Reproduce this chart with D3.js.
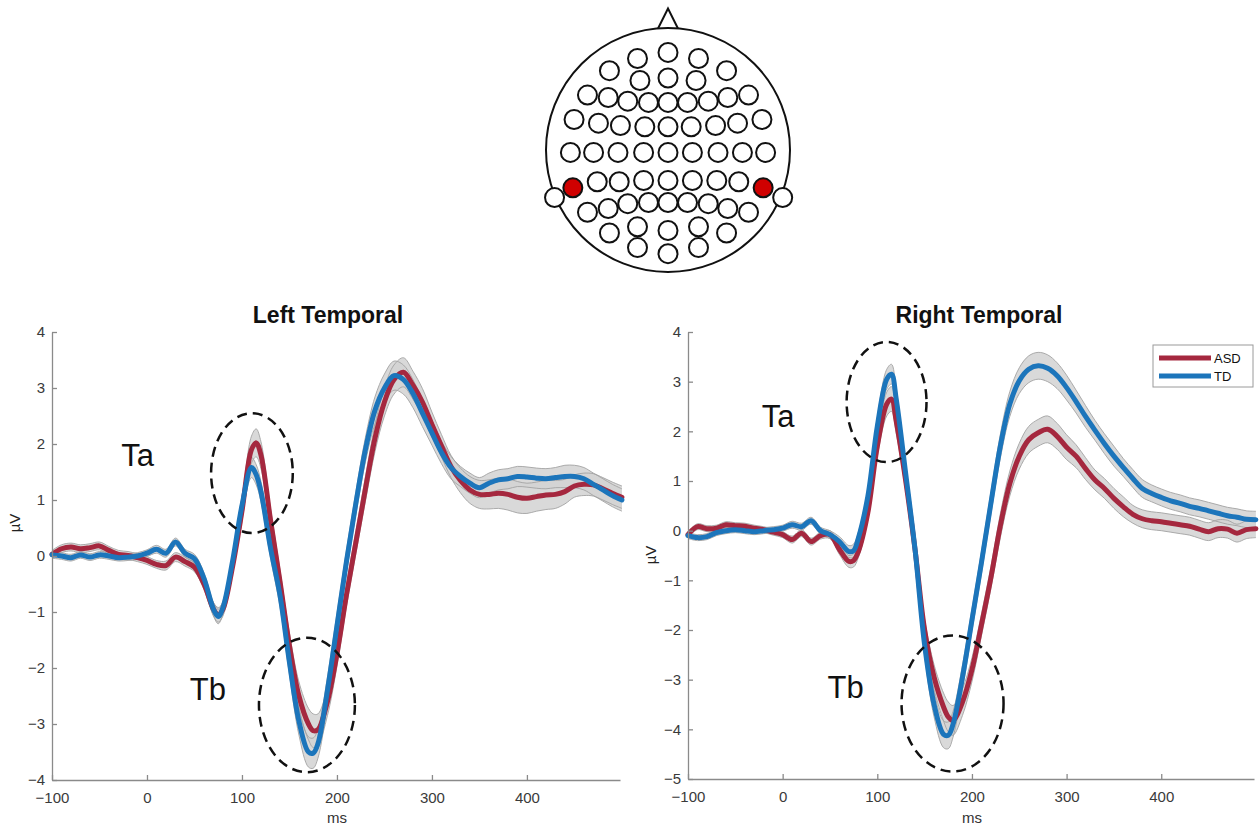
<!DOCTYPE html>
<html>
<head>
<meta charset="utf-8">
<script src="https://cdn.jsdelivr.net/npm/d3@7"></script>
<style>
  body { margin: 0; background: #fff; }
  text { font-family: Arial, "Liberation Sans", sans-serif; }
</style>
</head>
<body>
<svg id="chart" width="1260" height="829"></svg>
<script>
// time points (ms)
var ms = [-100, -90, -80, -70, -60, -50, -40, -30, -20, -10, 0, 10, 20, 30, 40, 50, 60, 70, 75, 80,
  90, 100, 110, 115, 120, 130, 140, 150, 160, 170, 175, 180, 190, 200, 210, 220, 230, 240, 250, 260,
  270, 280, 290, 300, 310, 320, 330, 340, 350, 360, 370, 380, 390, 400, 410, 420, 430, 440, 450, 460,
  470, 480, 490, 500];

// Left temporal (µV)
var leftASD = [0.03, 0.13, 0.16, 0.13, 0.15, 0.18, 0.1, 0.03, 0.01, -0.03, -0.08, -0.15, -0.17, -0.02, -0.1, -0.2, -0.5, -0.95, -1.05, -0.95,
  -0.2, 0.8, 1.9, 2.02, 1.8, 0.65, -0.45, -1.6, -2.5, -3.0, -3.12, -3.1, -2.6, -1.75, -0.7, 0.25, 1.2, 2.1, 2.75, 3.15,
  3.28, 3.05, 2.75, 2.35, 1.97, 1.6, 1.35, 1.18, 1.1, 1.1, 1.12, 1.1, 1.05, 1.03, 1.06, 1.09, 1.1, 1.15, 1.25, 1.28,
  1.27, 1.2, 1.12, 1.05];
var leftTD = [0.02, 0.0, -0.03, 0.02, -0.02, 0.02, 0.0, -0.03, -0.02, 0.0, 0.05, 0.12, 0.05, 0.25, 0.05, -0.05, -0.4, -0.95, -1.08, -0.92,
  -0.1, 0.9, 1.58, 1.45, 1.15, 0.15, -0.7, -1.9, -2.95, -3.5, -3.52, -3.35, -2.4, -1.25, -0.1, 0.95, 1.9, 2.6, 3.0, 3.22,
  3.15, 2.9, 2.55, 2.2, 1.85, 1.58, 1.42, 1.3, 1.22, 1.3, 1.36, 1.38, 1.42, 1.41, 1.39, 1.38, 1.4, 1.42, 1.42, 1.38,
  1.28, 1.18, 1.08, 1.0];
var leftASDse = [0.07, 0.07, 0.07, 0.07, 0.07, 0.07, 0.07, 0.07, 0.07, 0.07, 0.07, 0.07, 0.08, 0.08, 0.08, 0.08, 0.1, 0.12, 0.13, 0.12,
  0.12, 0.18, 0.24, 0.25, 0.24, 0.2, 0.2, 0.22, 0.25, 0.28, 0.3, 0.28, 0.25, 0.22, 0.2, 0.2, 0.22, 0.24, 0.25, 0.26,
  0.26, 0.25, 0.24, 0.22, 0.2, 0.2, 0.22, 0.24, 0.25, 0.26, 0.27, 0.28, 0.28, 0.27, 0.26, 0.26, 0.25, 0.22, 0.2, 0.2,
  0.2, 0.2, 0.2, 0.2];
var leftTDse = [0.06, 0.06, 0.06, 0.06, 0.06, 0.06, 0.06, 0.06, 0.06, 0.06, 0.06, 0.07, 0.07, 0.07, 0.07, 0.08, 0.1, 0.12, 0.13, 0.12,
  0.12, 0.16, 0.18, 0.18, 0.18, 0.18, 0.2, 0.22, 0.25, 0.27, 0.27, 0.26, 0.24, 0.22, 0.2, 0.2, 0.22, 0.24, 0.25, 0.26,
  0.26, 0.25, 0.24, 0.22, 0.2, 0.2, 0.18, 0.18, 0.18, 0.18, 0.18, 0.18, 0.18, 0.18, 0.18, 0.18, 0.18, 0.2, 0.2, 0.2,
  0.2, 0.2, 0.2, 0.2];

// Right temporal (µV)
var rightASD = [-0.08, 0.08, 0.04, 0.05, 0.12, 0.1, 0.09, 0.05, 0.02, -0.03, -0.08, -0.18, -0.05, -0.22, -0.1, -0.08, -0.38, -0.62, -0.6, -0.42,
  0.36, 1.7, 2.55, 2.65, 2.2, 1.0, -0.4, -2.0, -2.95, -3.55, -3.75, -3.82, -3.45, -2.8, -1.9, -0.95, 0.1, 0.95, 1.5, 1.83,
  1.97, 2.04, 1.9, 1.68, 1.5, 1.25, 1.02, 0.85, 0.65, 0.48, 0.33, 0.24, 0.2, 0.18, 0.15, 0.12, 0.09, 0.03, -0.02, 0.04,
  0.03, -0.05, 0.02, 0.04];
var rightTD = [-0.1, -0.14, -0.12, -0.04, 0.0, 0.02, 0.0, -0.02, 0.0, 0.02, 0.05, 0.12, 0.08, 0.2, 0.0, -0.08, -0.22, -0.42, -0.4, -0.15,
  0.69, 2.1, 3.05, 3.15, 2.65, 1.15, -0.4, -2.3, -3.5, -4.1, -4.12, -3.9, -2.95, -1.8, -0.65, 0.55, 1.7, 2.55, 3.02, 3.25,
  3.32, 3.27, 3.12, 2.88, 2.6, 2.3, 2.02, 1.75, 1.5, 1.27, 1.05, 0.85, 0.75, 0.67, 0.6, 0.55, 0.49, 0.45, 0.4, 0.35,
  0.3, 0.27, 0.23, 0.22];
var rightASDse = [0.06, 0.06, 0.06, 0.06, 0.06, 0.06, 0.06, 0.06, 0.06, 0.06, 0.06, 0.07, 0.07, 0.07, 0.07, 0.08, 0.1, 0.12, 0.13, 0.12,
  0.14, 0.2, 0.24, 0.25, 0.24, 0.2, 0.2, 0.22, 0.25, 0.28, 0.3, 0.3, 0.27, 0.24, 0.22, 0.22, 0.24, 0.25, 0.26, 0.27,
  0.27, 0.27, 0.26, 0.25, 0.23, 0.22, 0.2, 0.2, 0.2, 0.2, 0.18, 0.18, 0.18, 0.18, 0.18, 0.18, 0.18, 0.18, 0.18, 0.18,
  0.18, 0.18, 0.18, 0.18];
var rightTDse = [0.06, 0.06, 0.06, 0.06, 0.06, 0.06, 0.06, 0.06, 0.06, 0.06, 0.06, 0.07, 0.07, 0.07, 0.07, 0.08, 0.1, 0.12, 0.13, 0.12,
  0.14, 0.18, 0.2, 0.2, 0.2, 0.2, 0.2, 0.22, 0.25, 0.27, 0.27, 0.26, 0.24, 0.22, 0.22, 0.22, 0.24, 0.25, 0.26, 0.27,
  0.27, 0.27, 0.26, 0.25, 0.23, 0.22, 0.2, 0.2, 0.2, 0.18, 0.18, 0.18, 0.17, 0.17, 0.17, 0.17, 0.17, 0.17, 0.17, 0.17,
  0.17, 0.17, 0.17, 0.17];

var groups = ["ASD", "TD"];
var xTicks = [-100, 0, 100, 200, 300, 400];
var leftYTicks = [-4, -3, -2, -1, 0, 1, 2, 3, 4];
var rightYTicks = [-5, -4, -3, -2, -1, 0, 1, 2, 3, 4];

// annotations: [label, ms, µV] and ellipses [ms, µV, rx ms, ry µV]
var leftLabels = [["Ta", -27, 1.61], ["Tb", 45, -2.57]];
var leftEllipses = [[110.5, 1.48, 43, 1.07], [168.4, -2.66, 50.5, 1.2]];
var rightLabels = [["Ta", -22, 2.09], ["Tb", 47.5, -3.36]];
var rightEllipses = [[109.8, 2.59, 42.2, 1.21], [179.5, -3.48, 53.9, 1.37]];

// electrode montage, head units (radius 100)
var electrodes = [[0, -80], [-25, -75], [25, -75], [-48, -65], [48, -65], [-23, -57], [0, -59], [23, -57],
  [-66, -45], [-49, -43], [-33, -40], [-16, -39], [0, -39], [16, -39], [33, -40], [49, -43], [66, -45],
  [-77, -25], [-57, -22], [-39, -20], [-19, -19], [0, -19], [19, -19], [39, -20], [57, -22], [77, -25],
  [-80, 2], [-61, 2], [-41, 2], [-20, 2], [0, 2], [20, 2], [41, 2], [61, 2], [80, 2],
  [-58, 26], [-40, 26], [-20, 25], [0, 25], [20, 25], [40, 25], [58, 26],
  [-66, 51], [-49, 48], [-33, 44], [-16, 43], [0, 43], [16, 43], [33, 44], [49, 48], [66, 51],
  [-48, 68], [-25, 63], [0, 66], [25, 63], [48, 68], [-25, 80], [0, 85], [25, 80],
  [-93, 39], [94, 39]];
var activeSites = [[-78, 31], [78, 31]];
var nose = [[-9, -98], [0, -116], [9, -98]];

var colors = { ASD: "#a5283f", TD: "#1c75bb" };
var svg = d3.select("#chart");
svg.append("rect").attr("width", 1260).attr("height", 829).attr("fill", "#fff");

// ---- head map ----
var hx = d3.scaleLinear().domain([-100, 100]).range([546, 790]);
var hy = d3.scaleLinear().domain([-100, 100]).range([28, 272]);
var head = svg.append("g");
head.append("path")
  .attr("d", d3.line().x(function (d) { return hx(d[0]); }).y(function (d) { return hy(d[1]); })(nose))
  .attr("fill", "#fff").attr("stroke", "#111").attr("stroke-width", 2);
head.append("circle")
  .attr("cx", hx(0)).attr("cy", hy(0)).attr("r", hx(100) - hx(0))
  .attr("fill", "#fff").attr("stroke", "#111").attr("stroke-width", 2);
head.selectAll(".el").data(electrodes).enter().append("circle")
  .attr("cx", function (d) { return hx(d[0]); })
  .attr("cy", function (d) { return hy(d[1]); })
  .attr("r", 9.5).attr("fill", "#fff").attr("stroke", "#111").attr("stroke-width", 2);
head.selectAll(".act").data(activeSites).enter().append("circle")
  .attr("cx", function (d) { return hx(d[0]); })
  .attr("cy", function (d) { return hy(d[1]); })
  .attr("r", 9.5).attr("fill", "#d00000").attr("stroke", "#111").attr("stroke-width", 2);

// ---- ERP panels ----
function drawPanel(p) {
  var x = d3.scaleLinear().domain([-100, 498]).range(p.xRange);
  var y = d3.scaleLinear().domain([p.yTicks[0], p.yTicks[p.yTicks.length - 1]]).range(p.yRange);
  var g = svg.append("g");
  var idx = d3.range(ms.length);

  var series = [
    { name: "ASD", v: p.asd, se: p.asdSe },
    { name: "TD", v: p.td, se: p.tdSe }
  ];

  // shaded error bands
  series.forEach(function (s) {
    var area = d3.area()
      .x(function (i) { return x(ms[i]); })
      .y0(function (i) { return y(s.v[i] - s.se[i]); })
      .y1(function (i) { return y(s.v[i] + s.se[i]); })
      .curve(d3.curveCatmullRom);
    g.append("path").datum(idx).attr("d", area)
      .attr("fill", "#d2d2d2").attr("fill-opacity", 0.85);
  });
  series.forEach(function (s) {
    [-1, 1].forEach(function (k) {
      var edge = d3.line()
        .x(function (i) { return x(ms[i]); })
        .y(function (i) { return y(s.v[i] + k * s.se[i]); })
        .curve(d3.curveCatmullRom);
      g.append("path").datum(idx).attr("d", edge)
        .attr("fill", "none").attr("stroke", "#a3a3a3").attr("stroke-width", 0.9);
    });
  });
  // mean lines
  series.forEach(function (s) {
    var line = d3.line()
      .x(function (i) { return x(ms[i]); })
      .y(function (i) { return y(s.v[i]); })
      .curve(d3.curveCatmullRom);
    g.append("path").datum(idx).attr("d", line)
      .attr("fill", "none").attr("stroke", colors[s.name])
      .attr("stroke-width", 5).attr("stroke-linejoin", "round").attr("stroke-linecap", "round");
  });

  // axes
  var yAxis = d3.axisLeft(y).tickValues(p.yTicks).tickSizeInner(-5).tickSizeOuter(0).tickPadding(7);
  var xAxis = d3.axisBottom(x).tickValues(xTicks).tickSizeInner(-5).tickSizeOuter(0).tickPadding(12);
  var ya = g.append("g").attr("transform", "translate(" + p.xRange[0] + ",0)").call(yAxis);
  var xa = g.append("g").attr("transform", "translate(0," + p.yRange[0] + ")").call(xAxis);
  [ya, xa].forEach(function (a) {
    a.select(".domain").attr("stroke", "#8a8a8a").attr("stroke-width", 1.3);
    a.selectAll(".tick line").attr("stroke", "#8a8a8a").attr("stroke-width", 1.3);
    a.selectAll(".tick text").attr("fill", "#3a3a3a").style("font-size", "15px")
      .style("font-family", "Arial, 'Liberation Sans', sans-serif");
  });

  // axis labels & title
  g.append("text").attr("x", x(200)).attr("y", 823).attr("text-anchor", "middle")
    .style("font-size", "15px").attr("fill", "#333").text("ms");
  g.append("text").attr("transform", "translate(" + (p.xRange[0] - 32) + "," + p.yLabelY + ") rotate(-90)")
    .attr("text-anchor", "middle").style("font-size", "15px").attr("fill", "#222").text("µV");
  g.append("text").attr("x", p.titleX).attr("y", 323).attr("text-anchor", "middle")
    .style("font-size", "23px").style("font-weight", "bold").attr("fill", "#111").text(p.title);

  // annotations
  p.ellipses.forEach(function (e) {
    g.append("ellipse")
      .attr("cx", x(e[0])).attr("cy", y(e[1]))
      .attr("rx", x(e[2]) - x(0)).attr("ry", y(0) - y(e[3]))
      .attr("fill", "none").attr("stroke", "#111").attr("stroke-width", 2.5)
      .attr("stroke-dasharray", "10,6");
  });
  p.labels.forEach(function (l) {
    g.append("text").attr("x", x(l[1])).attr("y", y(l[2]))
      .style("font-size", "31px").attr("fill", "#111").text(l[0]);
  });

  // legend
  if (p.legend) {
    var lx = p.xRange[1] - 101, ly = p.yRange[1] + 13;
    var lg = g.append("g").attr("transform", "translate(" + lx + "," + ly + ")");
    lg.append("rect").attr("width", 100).attr("height", 42)
      .attr("fill", "#fff").attr("stroke", "#9a9a9a").attr("stroke-width", 1);
    groups.forEach(function (name, i) {
      lg.append("line").attr("x1", 6).attr("x2", 58).attr("y1", 13 + i * 18).attr("y2", 13 + i * 18)
        .attr("stroke", colors[name]).attr("stroke-width", 5);
      lg.append("text").attr("x", 61).attr("y", 18 + i * 18)
        .style("font-size", "13px").attr("fill", "#111").text(name);
    });
  }
}

drawPanel({
  title: "Left Temporal", titleX: 328,
  xRange: [52, 620], yRange: [780, 332], yTicks: leftYTicks, yLabelY: 523,
  asd: leftASD, td: leftTD, asdSe: leftASDse, tdSe: leftTDse,
  labels: leftLabels, ellipses: leftEllipses, legend: false
});
drawPanel({
  title: "Right Temporal", titleX: 979,
  xRange: [688, 1254], yRange: [779, 332], yTicks: rightYTicks, yLabelY: 555,
  asd: rightASD, td: rightTD, asdSe: rightASDse, tdSe: rightTDse,
  labels: rightLabels, ellipses: rightEllipses, legend: true
});
</script>
</body>
</html>
